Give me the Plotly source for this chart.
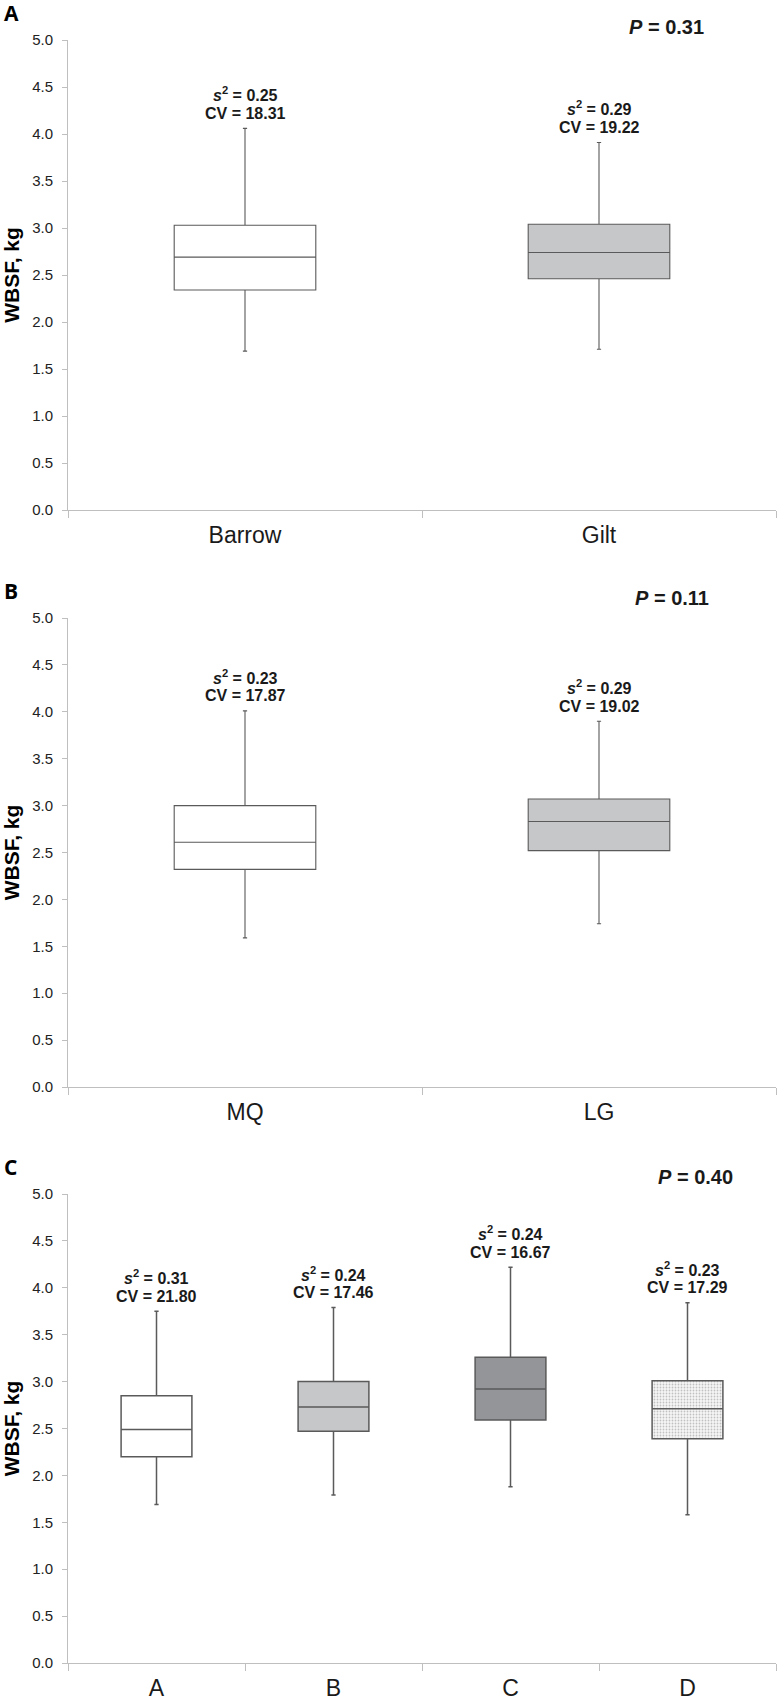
import plotly.graph_objects as go

# ---------------- data ----------------
# Panel A: sex
cats_a = ["Barrow", "Gilt"]
lower_a = [1.69, 1.71]
q1_a = [2.34, 2.46]
med_a = [2.69, 2.74]
q3_a = [3.03, 3.04]
upper_a = [4.06, 3.91]
var_a = ["0.25", "0.29"]
cv_a = ["18.31", "19.22"]
p_a = "0.31"

# Panel B
cats_b = ["MQ", "LG"]
lower_b = [1.59, 1.74]
q1_b = [2.32, 2.52]
med_b = [2.61, 2.83]
q3_b = [3.00, 3.07]
upper_b = [4.01, 3.90]
var_b = ["0.23", "0.29"]
cv_b = ["17.87", "19.02"]
p_b = "0.11"

# Panel C
cats_c = ["A", "B", "C", "D"]
lower_c = [1.69, 1.79, 1.88, 1.58]
q1_c = [2.20, 2.47, 2.59, 2.39]
med_c = [2.49, 2.73, 2.92, 2.71]
q3_c = [2.85, 3.00, 3.26, 3.01]
upper_c = [3.75, 3.79, 4.22, 3.84]
var_c = ["0.31", "0.24", "0.24", "0.23"]
cv_c = ["21.80", "17.46", "16.67", "17.29"]
p_c = "0.40"

# ---------------- styling ----------------
FONT = "Liberation Sans, Arial, sans-serif"
AXIS_GRAY = "#bfbfbf"
WHITE = "#ffffff"
LIGHT = "#c6c7c9"
DARK = "#939598"
panels = [
    dict(cats=cats_a, lo=lower_a, q1=q1_a, med=med_a, q3=q3_a, up=upper_a,
         var=var_a, cv=cv_a, p=p_a, fills=[WHITE, LIGHT], lw=1.1, ww=0.03,
         letter="A", px=0.846, pshift=13),
    dict(cats=cats_b, lo=lower_b, q1=q1_b, med=med_b, q3=q3_b, up=upper_b,
         var=var_b, cv=cv_b, p=p_b, fills=[WHITE, LIGHT], lw=1.1, ww=0.03,
         letter="B", px=0.853, pshift=20),
    dict(cats=cats_c, lo=lower_c, q1=q1_c, med=med_c, q3=q3_c, up=upper_c,
         var=var_c, cv=cv_c, p=p_c, fills=[WHITE, LIGHT, DARK, "pattern"], lw=1.5, ww=0.06,
         letter="C", px=0.887, pshift=17),
]

W, H = 779, 1701
mt, mb, ml, mr = 40, 38, 68, 3
ph = H - mt - mb
domains = [
    [1153 / ph, 1.0],
    [576 / ph, 1045 / ph],
    [0.0, 469 / ph],
]

fig = go.Figure()
annotations = []
layout_axes = {}

for i, pnl in enumerate(panels):
    sfx = "" if i == 0 else str(i + 1)
    xa, ya = "x" + sfx, "y" + sfx
    for j, cat in enumerate(pnl["cats"]):
        fill = pnl["fills"][j]
        if fill == "pattern":
            fig.add_trace(go.Bar(
                x=[cat], y=[pnl["q3"][j] - pnl["q1"][j]], base=[pnl["q1"][j]],
                width=0.4, xaxis=xa, yaxis=ya, showlegend=False, hoverinfo="skip",
                marker=dict(color=WHITE, line=dict(width=0),
                            pattern=dict(shape=".", fgcolor="#8c8c8c", bgcolor="#f6f6f6",
                                         size=3, solidity=0.3)),
            ))
            fillcolor = "rgba(0,0,0,0)"
        else:
            fillcolor = fill
        fig.add_trace(go.Box(
            x=[cat], q1=[pnl["q1"][j]], median=[pnl["med"][j]], q3=[pnl["q3"][j]],
            lowerfence=[pnl["lo"][j]], upperfence=[pnl["up"][j]],
            fillcolor=fillcolor, line=dict(color="#5a5a5a", width=pnl["lw"]),
            width=0.4, whiskerwidth=pnl["ww"], boxpoints=False,
            xaxis=xa, yaxis=ya, showlegend=False, hoverinfo="skip",
        ))
        # s^2 and CV labels above the upper whisker
        annotations.append(dict(
            x=cat, y=pnl["up"][j], xref=xa, yref=ya, xanchor="center",
            yanchor="middle", yshift=34,
            text="<b><i>s</i><sup>2</sup> = " + pnl["var"][j] + "</b>",
            showarrow=False, font=dict(family=FONT, size=16, color="#1a1a1a"),
        ))
        annotations.append(dict(
            x=cat, y=pnl["up"][j], xref=xa, yref=ya, xanchor="center",
            yanchor="middle", yshift=15,
            text="<b>CV = " + pnl["cv"][j] + "</b>",
            showarrow=False, font=dict(family=FONT, size=16, color="#1a1a1a"),
        ))
    # P value
    annotations.append(dict(
        x=pnl["px"], y=1, xref=xa + " domain", yref=ya + " domain",
        xanchor="center", yanchor="middle", yshift=pnl["pshift"],
        text="<b><i>P</i> = " + pnl["p"] + "</b>", showarrow=False,
        font=dict(family=FONT, size=20, color="#1a1a1a"),
    ))
    # panel letter
    annotations.append(dict(
        x=-66 / (W - ml - mr), y=1, xref="paper", yref=ya + " domain",
        xanchor="left", yanchor="middle", yshift=27.5,
        text="<b>" + pnl["letter"] + "</b>", showarrow=False,
        font=dict(family="Open Sans, sans-serif", size=21, color="#000000"),
    ))

    n = len(pnl["cats"])
    layout_axes["xaxis" + sfx] = dict(
        domain=[0, 1], anchor=ya, type="category", categoryorder="array",
        categoryarray=pnl["cats"], range=[-0.5, n - 0.5],
        showline=True, linecolor=AXIS_GRAY, linewidth=1,
        ticks="outside", tickson="boundaries", ticklen=7, tickcolor=AXIS_GRAY,
        showgrid=False, zeroline=False, ticklabelstandoff=4,
        tickfont=dict(family=FONT, size=23, color="#1a1a1a"),
    )
    layout_axes["yaxis" + sfx] = dict(
        domain=domains[i], anchor=xa, range=[0, 5], tick0=0, dtick=0.5,
        tickformat=".1f", showline=True, linecolor=AXIS_GRAY, linewidth=1,
        ticks="outside", ticklen=5, tickcolor=AXIS_GRAY,
        showgrid=False, zeroline=False, ticklabelstandoff=6,
        tickfont=dict(family=FONT, size=15, color="#222222"),
        title=dict(text="<b>WBSF, kg</b>", standoff=8,
                   font=dict(family=FONT, size=21, color="#000000")),
    )

fig.update_layout(
    width=W, height=H,
    margin=dict(l=ml, r=mr, t=mt, b=mb, autoexpand=False),
    paper_bgcolor="white", plot_bgcolor="white",
    barmode="overlay", boxmode="overlay",
    annotations=annotations,
    **layout_axes,
)

fig.write_html(
    "out.html",
    config={"displayModeBar": False},
    post_script="document.body.style.margin='0px';document.body.style.padding='0px';",
)
